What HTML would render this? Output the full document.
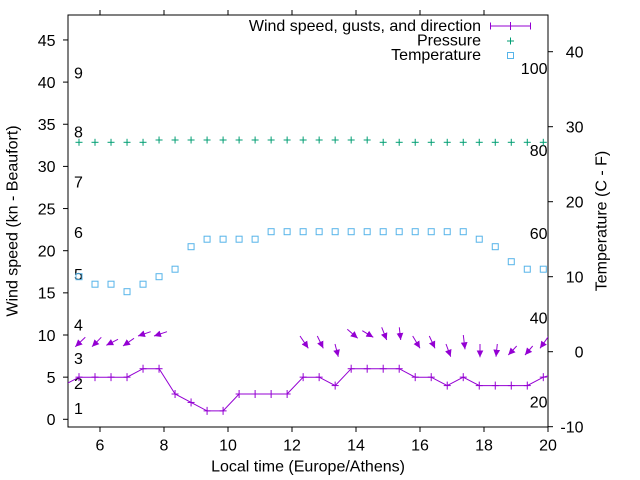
<!DOCTYPE html>
<html><head><meta charset="utf-8"><style>
html,body{margin:0;padding:0;background:#fff;}
svg{display:block;font-family:"Liberation Sans",Arial,sans-serif;font-size:16px;}
</style></head><body>
<svg width="640" height="480" viewBox="0 0 640 480" xmlns="http://www.w3.org/2000/svg">
<defs>
<marker id="ah" markerUnits="userSpaceOnUse" markerWidth="8" markerHeight="8" viewBox="0 0 8 8" refX="7" refY="4" orient="auto">
<path d="M0,0.6 L7,4 L0,7.4 Z" fill="#9400d3"/>
</marker>
<clipPath id="pc"><rect x="68" y="15" width="480" height="412"/></clipPath>
</defs>
<rect width="640" height="480" fill="#fff"/>
<!-- border -->
<rect x="68" y="15" width="480" height="412" fill="none" stroke="#000" stroke-width="1"/>
<g stroke="#000" stroke-width="1">
<!-- left ticks -->
<line x1="63" x2="68" y1="419.3" y2="419.3"/><line x1="63" x2="68" y1="377.15" y2="377.15"/>
<line x1="63" x2="68" y1="335" y2="335"/><line x1="63" x2="68" y1="292.85" y2="292.85"/>
<line x1="63" x2="68" y1="250.7" y2="250.7"/><line x1="63" x2="68" y1="208.55" y2="208.55"/>
<line x1="63" x2="68" y1="166.4" y2="166.4"/><line x1="63" x2="68" y1="124.25" y2="124.25"/>
<line x1="63" x2="68" y1="82.1" y2="82.1"/><line x1="63" x2="68" y1="39.95" y2="39.95"/>
<!-- right ticks -->
<line x1="548" x2="553" y1="426.7" y2="426.7"/><line x1="548" x2="553" y1="351.7" y2="351.7"/>
<line x1="548" x2="553" y1="276.7" y2="276.7"/><line x1="548" x2="553" y1="201.7" y2="201.7"/>
<line x1="548" x2="553" y1="126.7" y2="126.7"/><line x1="548" x2="553" y1="51.7" y2="51.7"/>
<!-- bottom ticks -->
<line x1="100" x2="100" y1="427" y2="432"/><line x1="164" x2="164" y1="427" y2="432"/>
<line x1="228" x2="228" y1="427" y2="432"/><line x1="292" x2="292" y1="427" y2="432"/>
<line x1="356" x2="356" y1="427" y2="432"/><line x1="420" x2="420" y1="427" y2="432"/>
<line x1="484" x2="484" y1="427" y2="432"/><line x1="548" x2="548" y1="427" y2="432"/>
<!-- top ticks -->
<line x1="100" x2="100" y1="10" y2="15"/><line x1="164" x2="164" y1="10" y2="15"/>
<line x1="228" x2="228" y1="10" y2="15"/><line x1="292" x2="292" y1="10" y2="15"/>
<line x1="356" x2="356" y1="10" y2="15"/><line x1="420" x2="420" y1="10" y2="15"/>
<line x1="484" x2="484" y1="10" y2="15"/>
</g>
<!-- left tick labels -->
<g fill="#000" text-anchor="end">
<text x="55.5" y="425">0</text><text x="55.5" y="383">5</text>
<text x="55.5" y="341">10</text><text x="55.5" y="298.7">15</text>
<text x="55.5" y="256.5">20</text><text x="55.5" y="214.4">25</text>
<text x="55.5" y="172.2">30</text><text x="55.5" y="130">35</text>
<text x="55.5" y="88">40</text><text x="55.5" y="45.8">45</text>
</g>
<!-- right tick labels -->
<g fill="#000" text-anchor="end">
<text x="583.5" y="432.5">-10</text><text x="583.5" y="357.5">0</text>
<text x="583.5" y="282.5">10</text><text x="583.5" y="207.5">20</text>
<text x="583.5" y="132.5">30</text><text x="583.5" y="57.5">40</text>
</g>
<!-- fahrenheit labels -->
<g fill="#000" text-anchor="end">
<text x="547.5" y="74">100</text><text x="547.5" y="156">80</text>
<text x="547.5" y="239">60</text><text x="547.5" y="323.5">40</text>
<text x="547.5" y="407.5">20</text>
</g>
<!-- beaufort labels -->
<g fill="#000">
<text x="74" y="78.5">9</text><text x="74" y="137.5">8</text>
<text x="74" y="187.5">7</text><text x="74" y="238">6</text>
<text x="74" y="280">5</text><text x="74" y="330.5">4</text>
<text x="74" y="364">3</text><text x="74" y="389">2</text>
<text x="74" y="414">1</text>
</g>
<!-- bottom labels -->
<g fill="#000" text-anchor="middle">
<text x="100" y="450.5">6</text><text x="164" y="450.5">8</text>
<text x="228" y="450.5">10</text><text x="292" y="450.5">12</text>
<text x="356" y="450.5">14</text><text x="420" y="450.5">16</text>
<text x="484" y="450.5">18</text><text x="548" y="450.5">20</text>
<text x="308" y="471.7">Local time (Europe/Athens)</text>
<text transform="translate(17.5,221) rotate(-90)">Wind speed (kn - Beaufort)</text>
<text transform="translate(606.5,221) rotate(-90)">Temperature (C - F)</text>
</g>
<!-- legend -->
<g fill="#000" text-anchor="end">
<text x="481" y="31">Wind speed, gusts, and direction</text>
<text x="481" y="45.5">Pressure</text>
<text x="481" y="60">Temperature</text>
</g>
<g stroke="#9400d3" stroke-width="1" fill="none">
<line x1="490.5" x2="530.5" y1="26" y2="26"/>
<line x1="490.5" x2="490.5" y1="22.5" y2="29.5"/>
<line x1="530.5" x2="530.5" y1="22.5" y2="29.5"/>
<line x1="510.5" x2="510.5" y1="22" y2="30"/>
</g>
<g stroke="#009e73" stroke-width="1">
<line x1="507" x2="514" y1="41" y2="41"/><line x1="510.5" x2="510.5" y1="37.5" y2="44.5"/>
</g>
<rect x="507.5" y="52.5" width="6" height="6" fill="none" stroke="#56b4e9" stroke-width="1"/>

<g clip-path="url(#pc)">
<!-- pressure -->
<g stroke="#009e73" stroke-width="1" id="press"></g>
<!-- temperature -->
<g stroke="#56b4e9" stroke-width="1" fill="none" id="temp"></g>
<!-- wind -->
<g stroke="#9400d3" stroke-width="1" fill="none" id="wind"></g>
<!-- arrows -->
<g stroke="#9400d3" stroke-width="1" marker-end="url(#ah)">
<line x1="85.3" y1="337.3" x2="75.3" y2="346.7" marker-end="url(#ah)"/>
<line x1="101.3" y1="337.3" x2="92" y2="346.7" marker-end="url(#ah)"/>
<line x1="118" y1="339.3" x2="106.3" y2="345.3" marker-end="url(#ah)"/>
<line x1="134" y1="338.3" x2="123" y2="346" marker-end="url(#ah)"/>
<line x1="150.7" y1="331.7" x2="138" y2="336" marker-end="url(#ah)"/>
<line x1="167" y1="331.7" x2="154" y2="336" marker-end="url(#ah)"/>
<line x1="300" y1="336" x2="308.3" y2="348.3" marker-end="url(#ah)"/>
<line x1="317.3" y1="336" x2="323.3" y2="348.3" marker-end="url(#ah)"/>
<line x1="335" y1="344" x2="338.3" y2="356.7" marker-end="url(#ah)"/>
<line x1="347.3" y1="329.3" x2="357.7" y2="338.3" marker-end="url(#ah)"/>
<line x1="362.3" y1="330.7" x2="373.3" y2="337.3" marker-end="url(#ah)"/>
<line x1="381.7" y1="327.3" x2="386.7" y2="340" marker-end="url(#ah)"/>
<line x1="399.3" y1="327.3" x2="400.7" y2="340" marker-end="url(#ah)"/>
<line x1="412.7" y1="336" x2="420" y2="348.3" marker-end="url(#ah)"/>
<line x1="429.3" y1="336" x2="435" y2="348.3" marker-end="url(#ah)"/>
<line x1="446" y1="344" x2="450.7" y2="356.7" marker-end="url(#ah)"/>
<line x1="463.3" y1="335" x2="465" y2="349.3" marker-end="url(#ah)"/>
<line x1="480" y1="344" x2="480" y2="357.3" marker-end="url(#ah)"/>
<line x1="497.3" y1="344" x2="496" y2="356.7" marker-end="url(#ah)"/>
<line x1="516.7" y1="346" x2="508.3" y2="355" marker-end="url(#ah)"/>
<line x1="532.7" y1="346" x2="525" y2="355" marker-end="url(#ah)"/>
<line x1="548.3" y1="336.7" x2="540" y2="348.3" marker-end="url(#ah)"/>
</g>
</g>
<script>
(function(){
var NS="http://www.w3.org/2000/svg";
function el(p,n,a){var e=document.createElementNS(NS,n);for(var k in a)e.setAttribute(k,a[k]);p.appendChild(e);return e;}
var xs=[];for(var i=0;i<30;i++)xs.push(79+16.01*i);
var press=document.getElementById('press');
for(var i=0;i<30;i++){var y=(i>=5&&i<=18)?140:142.3;var x=xs[i];
el(press,'line',{x1:x-3.5,x2:x+3.5,y1:y,y2:y});el(press,'line',{x1:x,x2:x,y1:y-3.5,y2:y+3.5});}
var tc=[10,9,9,8,9,10,11,14,15,15,15,15,16,16,16,16,16,16,16,16,16,16,16,16,16,15,14,12,11,11];
var temp=document.getElementById('temp');
for(var i=0;i<30;i++){var y=351.7-7.5*tc[i];el(temp,'rect',{x:xs[i]-3,y:y-3,width:6,height:6});}
var w=[5,5,5,5,6,6,3,2,1,1,3,3,3,3,5,5,4,6,6,6,6,5,5,4,5,4,4,4,4,5];
var wind=document.getElementById('wind');
var pts=[[63,419.3-8.43*4]];
for(var i=0;i<30;i++)pts.push([xs[i],419.3-8.43*w[i]]);
pts.push([559,419.3-8.43*5.5]);
el(wind,'polyline',{points:pts.map(function(p){return p[0].toFixed(1)+','+p[1].toFixed(1);}).join(' ')});
for(var i=0;i<30;i++){var x=xs[i],y=419.3-8.43*w[i];
el(wind,'line',{x1:x-3.5,x2:x+3.5,y1:y,y2:y});el(wind,'line',{x1:x,x2:x,y1:y-4,y2:y+4});}
})();
</script>
</svg>
</body></html>
